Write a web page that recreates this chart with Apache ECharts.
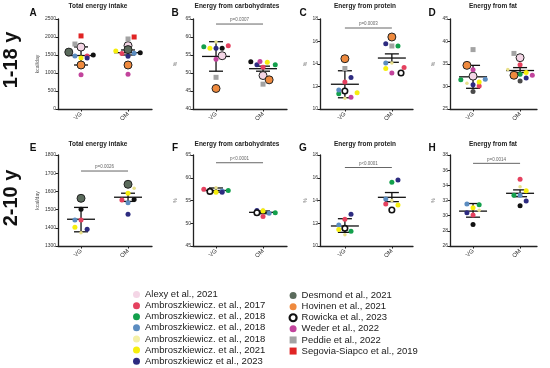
<!DOCTYPE html>
<html><head><meta charset="utf-8">
<script src="https://cdn.jsdelivr.net/npm/echarts@6/dist/echarts.min.js"></script>
<style>html,body{margin:0;padding:0;background:#fff}#c{width:550px;height:368px}</style>
</head><body><div id="c"></div>
<script>
// ---------- DATA ----------
const groups = ['VG', 'OM'];
const studyKeys = ['al','a17','a18g','a18b','a18y','a21','a23','de','ho','ro','we','pe','se'];
const studyNames = ['Alexy et al., 2021','Ambroszkiewicz. et al., 2017','Ambroszkiewicz. et al., 2018','Ambroszkiewicz. et al., 2018 ','Ambroszkiewicz. et al., 2018  ','Ambroszkiewicz. et al., 2021','Ambroszkiewicz et al., 2023','Desmond et al., 2021','Hovinen et al., 2021','Rowicka et al., 2023','Weder et al., 2022','Peddie et al., 2022','Segovia-Siapco et al., 2019'];
const panelLetters = ['A','B','C','D','E','F','G','H'];
const panelTitles = ['Total energy intake','Energy from carbohydrates','Energy from protein','Energy from fat','Total energy intake','Energy from carbohydrates','Energy from protein','Energy from fat'];
const rowLabels = ['1-18 y', '2-10 y'];
const yMin = [0, 40, 10, 25, 1300, 45, 10, 26];
const yMax = [2500, 65, 18, 45, 1800, 65, 18, 38];
const yStep = [500, 5, 2, 5, 100, 5, 2, 2];
const yNames = ['kcal/day','%','%','%','kcal/day','%','%','%'];
const pTexts = [null,'p=0.0307','p=0.0003',null,'p=0.0026','p<0.0001','p<0.0001','p=0.0014'];
const pLevels = [null, 63.6, 17.2, null, 1712, 63.3, 16.9, 36.9];
// mean, lower, upper for [VG, OM]
const meanVals = [[1485,1565],[54.6,51.2],[12.2,14.53],[32.15,33.55],[1447,1568],[57.2,52.4],[11.76,14.28],[30.6,32.95]];
const lowVals  = [[1222,1500],[50.5,50.5],[11.0,14.15],[29.6,33.1],[1378,1545],[56.85,52.1],[11.2,13.9],[29.8,32.5]];
const highVals = [[1725,1640],[58.7,51.9],[13.4,14.9],[34.7,34.2],[1512,1590],[57.75,52.7],[12.4,14.7],[31.6,33.4]];
// points: [study, group (0=VG,1=OM), jitter slot, value]
const pointsA = [['se',0,0,2030],['pe',0,-1,1805],['al',0,0,1720],['de',0,-2,1580],['ro',0,2,1500],['a18b',0,-1,1470],['a17',0,1,1475],['a21',0,0,1420],['a23',0,1,1415],['ho',0,0,1222],['we',0,0,950],
 ['se',1,1,2000],['pe',1,0,1945],['al',1,0,1760],['de',1,0,1650],['a21',1,-2,1610],['ro',1,2,1565],['a18b',1,1,1546],['a17',1,-1,1540],['a23',1,0,1463],['ho',1,0,1222],['we',1,0,963]];
const pointsB = [['a18g',0,-2,57.3],['a21',0,-1,56.9],['a18y',0,0,58.6],['a23',0,0,56.9],['ro',0,1,56.9],['a17',0,2,57.6],['we',0,0,53.8],['al',0,1,54.8],['pe',0,0,48.8],['ho',0,0,45.7],
 ['ro',1,-2,53.1],['a23',1,-1,52.3],['we',1,-0.5,53.2],['a21',1,0.7,53.0],['a18g',1,2,52.3],['a17',1,0,51.6],['al',1,0,49.3],['ho',1,1,48.1],['pe',1,0,46.9]];
const pointsC = [['ho',0,0,14.47],['pe',0,0,13.6],['a23',0,1,12.8],['a17',0,0,12.4],['a18b',0,-1,11.7],['a18g',0,-1,11.35],['rr',0,0,11.6],['a21',0,2,11.45],['we',0,1,11.05],['a18y',0,0,10.95],
 ['ho',1,0,16.4],['a23',1,-1,15.8],['pe',1,0,15.6],['a18g',1,1,15.6],['a18b',1,-1,14.1],['a18y',1,0,14.1],['a21',1,-1,13.6],['a17',1,2,13.7],['we',1,0,13.2],['rr',1,1.5,13.2]];
const pointsD = [['pe',0,0,38.2],['ho',0,-1,34.7],['we',0,0,33.75],['al',0,0,32.3],['a18g',0,-2,31.5],['a18b',0,2,31.6],['a18y',0,-1,30.7],['a23',0,0,30.4],['a21',0,1,31.0],['a17',0,1,30.1],['ds',0,0,28.9],
 ['pe',1,-1,37.35],['al',1,0,36.4],['a17',1,0,34.85],['a18y',1,-2,33.8],['ho',1,-1,32.5],['a18g',1,0,32.7],['a21',1,1,33.1],['we',1,2,32.5],['a23',1,1,31.9],['ds',1,0,31.25]];
const pointsE = [['de',0,0,1562],['ro',0,0,1502],['a18b',0,-1,1443],['a17',0,0,1443],['a21',0,-1,1403],['a23',0,1,1392],['a18y',0,0,1373],
 ['de',1,0,1639],['a18y',1,1,1617],['a21',1,0,1590],['a17',1,-1,1553],['a18b',1,0,1538],['ro',1,1,1556],['a23',1,0,1474]];
const pointsF = [['a17',0,-2,57.5],['rr',0,-1,57.0],['a18b',0,1,57.1],['a21',0,0,56.8],['a18y',0,0,57.8],['a23',0,1,56.8],['a18g',0,2,57.2],
 ['a23',1,-1,52.8],['rr',1,-1,52.3],['a21',1,0,52.7],['a17',1,0,51.5],['a18b',1,1,52.2],['a18g',1,2,52.3],['a18y',1,0,53.0]];
const pointsG = [['a23',0,1,12.8],['a17',0,0,12.35],['a18b',0,-1,11.85],['rr',0,0,11.55],['a18g',0,1,11.3],['a21',0,-1,11.45],['a18y',0,0,11.0],
 ['a23',1,1,15.8],['a18g',1,0,15.6],['a18b',1,-1,14.13],['a18y',1,0,14.0],['a17',1,-1,13.7],['a21',1,1,13.6],['rr',1,0,13.16]];
const pointsH = [['a18b',0,-1,31.55],['a18g',0,1,31.45],['a21',0,0,31.05],['a23',0,-1,30.4],['a18y',0,1,30.7],['a17',0,0,30.1],['ro',0,0,28.85],
 ['a17',1,0,34.8],['a18y',1,0,33.8],['a21',1,1,33.3],['a18g',1,-1,32.7],['a18b',1,0,32.7],['a23',1,1,31.95],['ro',1,0,31.3]];
const panelPoints = [pointsA, pointsB, pointsC, pointsD, pointsE, pointsF, pointsG, pointsH];

// ---------- STYLE / LAYOUT ----------
const FONT = 'Liberation Sans, Arial, sans-serif';
const styles = {
  al:  {name:0,  color:'#f4d6e6', border:'#222', bw:1,   size:8,   sym:'circle'},
  a17: {name:1,  color:'#e5415f', border:null,   bw:0,   size:5,   sym:'circle'},
  a18g:{name:2,  color:'#13a04c', border:null,   bw:0,   size:5,   sym:'circle'},
  a18b:{name:3,  color:'#5b8cc0', border:null,   bw:0,   size:5,   sym:'circle'},
  a18y:{name:4,  color:'#e8e08a', border:null,   bw:0,   size:3.5, sym:'circle'},
  a21: {name:5,  color:'#f6ee0c', border:null,   bw:0,   size:5,   sym:'circle'},
  a23: {name:6,  color:'#2d2b80', border:null,   bw:0,   size:5,   sym:'circle'},
  de:  {name:7,  color:'#5b6b5c', border:'#222', bw:1,   size:8,   sym:'circle'},
  ds:  {name:7,  color:'#4a4a4a', border:null,   bw:0,   size:5,   sym:'circle'},
  ho:  {name:8,  color:'#ef8a3e', border:'#222', bw:1,   size:8,   sym:'circle'},
  ro:  {name:9,  color:'#111111', border:null,   bw:0,   size:5,   sym:'circle'},
  rr:  {name:9,  color:'#ffffff', border:'#111', bw:1.6, size:5.5, sym:'circle'},
  we:  {name:10, color:'#c2449c', border:null,   bw:0,   size:5,   sym:'circle'},
  pe:  {name:11, color:'#a3a3a3', border:null,   bw:0,   size:5,   sym:'rect'},
  se:  {name:12, color:'#e02424', border:null,   bw:0,   size:5,   sym:'rect'}
};
const legendIcon = {
  al:{color:'#f4d6e6'}, a17:{color:'#e5415f'}, a18g:{color:'#13a04c'}, a18b:{color:'#5b8cc0'}, a18y:{color:'#f4f0a6'},
  a21:{color:'#f6ee0c'}, a23:{color:'#2d2b80'}, de:{color:'#5b6b5c'}, ho:{color:'#ef8a3e'},
  ro:{color:'#ffffff', borderColor:'#111', borderWidth:2.2}, we:{color:'#c2449c'}, pe:{color:'#a3a3a3'}, se:{color:'#e02424'}
};
const colLeft = [58, 193, 320, 450];
const colWidth = [94, 94, 93, 87];
const xMinCol = [0.51, 0.51, 0.47, 0.51];
const xMaxCol = [2.51, 2.51, 2.45, 2.36];
const rowTop = [19, 155];
const rowHeight = [90, 91];
const nameGaps = [18, 15, 12, 14];
const titleX = [98, 237, 365, 493];
const titleY = [6, 144];
const letterX = [33, 175, 303, 432];
const letterY = [13, 148];
const SLOT = 0.13;

const grids = [], xAxes = [], yAxes = [], series = [], graphics = [];
for (let i = 0; i < 8; i++) {
  const r = Math.floor(i / 4), c = i % 4;
  grids.push({left: colLeft[c], top: rowTop[r], width: colWidth[c], height: rowHeight[r], containLabel: false});
  xAxes.push({
    type: 'value', gridIndex: i, min: xMinCol[c], max: xMaxCol[c],
    splitLine: {show: false},
    axisLine: {show: true, onZero: false, lineStyle: {color: '#222', width: 1.3}},
    axisTick: {show: true, customValues: [1, 2], length: 2.5, lineStyle: {color: '#222', width: 1}},
    axisLabel: {show: true, customValues: [1, 2], formatter: v => groups[Math.round(v) - 1] || '',
      rotate: 45, fontSize: 6, color: '#333', margin: 4, fontFamily: FONT}
  });
  yAxes.push({
    type: 'value', gridIndex: i, min: yMin[i], max: yMax[i], interval: yStep[i],
    name: yNames[i], nameLocation: 'middle', nameGap: nameGaps[c], nameRotate: 90,
    nameTextStyle: {fontSize: 5, color: '#555', fontFamily: FONT},
    splitLine: {show: false},
    axisLine: {show: true, lineStyle: {color: '#222', width: 1.3}},
    axisTick: {show: true, length: 2.5, lineStyle: {color: '#222', width: 1}},
    axisLabel: {fontSize: 5, color: '#333', margin: 2, fontFamily: FONT, formatter: v => String(v)}
  });
  // error bars & mean
  series.push({
    type: 'custom', xAxisIndex: i, yAxisIndex: i, z: 1, silent: true,
    data: [0, 1].map(g => [g + 1, meanVals[i][g], lowVals[i][g], highVals[i][g]]),
    renderItem: function (params, api) {
      const x = api.value(0);
      const pm = api.coord([x, api.value(1)]), pl = api.coord([x, api.value(2)]), ph = api.coord([x, api.value(3)]);
      const st = {stroke: '#111', lineWidth: 1.3};
      return {type: 'group', children: [
        {type: 'line', shape: {x1: pm[0] - 14, y1: pm[1], x2: pm[0] + 14, y2: pm[1]}, style: st},
        {type: 'line', shape: {x1: pl[0], y1: pl[1], x2: ph[0], y2: ph[1]}, style: st},
        {type: 'line', shape: {x1: pl[0] - 7, y1: pl[1], x2: pl[0] + 7, y2: pl[1]}, style: st},
        {type: 'line', shape: {x1: ph[0] - 7, y1: ph[1], x2: ph[0] + 7, y2: ph[1]}, style: st}
      ]};
    }
  });
  // p-value bracket
  if (pTexts[i]) {
    const txt = pTexts[i];
    series.push({
      type: 'custom', xAxisIndex: i, yAxisIndex: i, z: 1, silent: true,
      data: [[1, pLevels[i]]],
      renderItem: function (params, api) {
        const a = api.coord([1, api.value(1)]), b = api.coord([2, api.value(1)]);
        return {type: 'group', children: [
          {type: 'line', shape: {x1: a[0], y1: a[1], x2: b[0], y2: b[1]}, style: {stroke: '#666', lineWidth: 1}},
          {type: 'text', x: (a[0] + b[0]) / 2, y: a[1] - 1.5, style: {text: txt, fill: '#666', font: '4.5px ' + FONT, align: 'center', verticalAlign: 'bottom'}}
        ]};
      }
    });
  }
  // points by study
  const byKey = {};
  panelPoints[i].forEach(p => { (byKey[p[0]] = byKey[p[0]] || []).push([p[1] + 1 + p[2] * SLOT, p[3]]); });
  Object.keys(styles).forEach(k => {
    if (!byKey[k]) return;
    const s = styles[k];
    series.push({
      type: 'scatter', name: studyNames[s.name], xAxisIndex: i, yAxisIndex: i, z: 3,
      symbol: s.sym, symbolSize: s.size, data: byKey[k],
      itemStyle: {color: s.color, borderColor: s.border || s.color, borderWidth: s.bw, opacity: 1},
      emphasis: {disabled: true}
    });
  });
  graphics.push({type: 'text', x: titleX[c], y: titleY[r], style: {text: panelTitles[i], font: 'bold 6.5px ' + FONT, fill: '#222', align: 'center', verticalAlign: 'middle'}});
  graphics.push({type: 'text', x: letterX[c], y: letterY[r], style: {text: panelLetters[i], font: 'bold 10px ' + FONT, fill: '#111', align: 'center', verticalAlign: 'middle'}});
}
graphics.push({type: 'text', x: 11, y: 60, rotation: Math.PI / 2, style: {text: rowLabels[0], font: 'bold 20px ' + FONT, fill: '#111', align: 'center', verticalAlign: 'middle'}});
graphics.push({type: 'text', x: 11, y: 198, rotation: Math.PI / 2, style: {text: rowLabels[1], font: 'bold 20px ' + FONT, fill: '#111', align: 'center', verticalAlign: 'middle'}});

const legendItem = k => {
  const s = styles[k];
  return {name: studyNames[s.name], icon: s.sym === 'rect' ? 'rect' : 'circle', itemStyle: Object.assign({borderWidth: 0}, legendIcon[k])};
};
const legendCommon = {
  orient: 'vertical', itemWidth: 7, itemHeight: 7, itemGap: 0, selectedMode: false,
  textStyle: {fontSize: 9.5, lineHeight: 11.1, color: '#1a1a1a', fontFamily: FONT}, padding: 0
};

const chart = echarts.init(document.getElementById('c'), null, {renderer: 'canvas'});
chart.setOption({
  animation: false,
  backgroundColor: '#fff',
  grid: grids, xAxis: xAxes, yAxis: yAxes, series: series, graphic: graphics,
  legend: [
    Object.assign({left: 133, top: 289, data: ['al','a17','a18g','a18b','a18y','a21','a23'].map(legendItem)}, legendCommon),
    Object.assign({left: 288.5, top: 290, data: ['de','ho','ro','we','pe','se'].map(legendItem)}, legendCommon)
  ]
});
</script></body></html>
